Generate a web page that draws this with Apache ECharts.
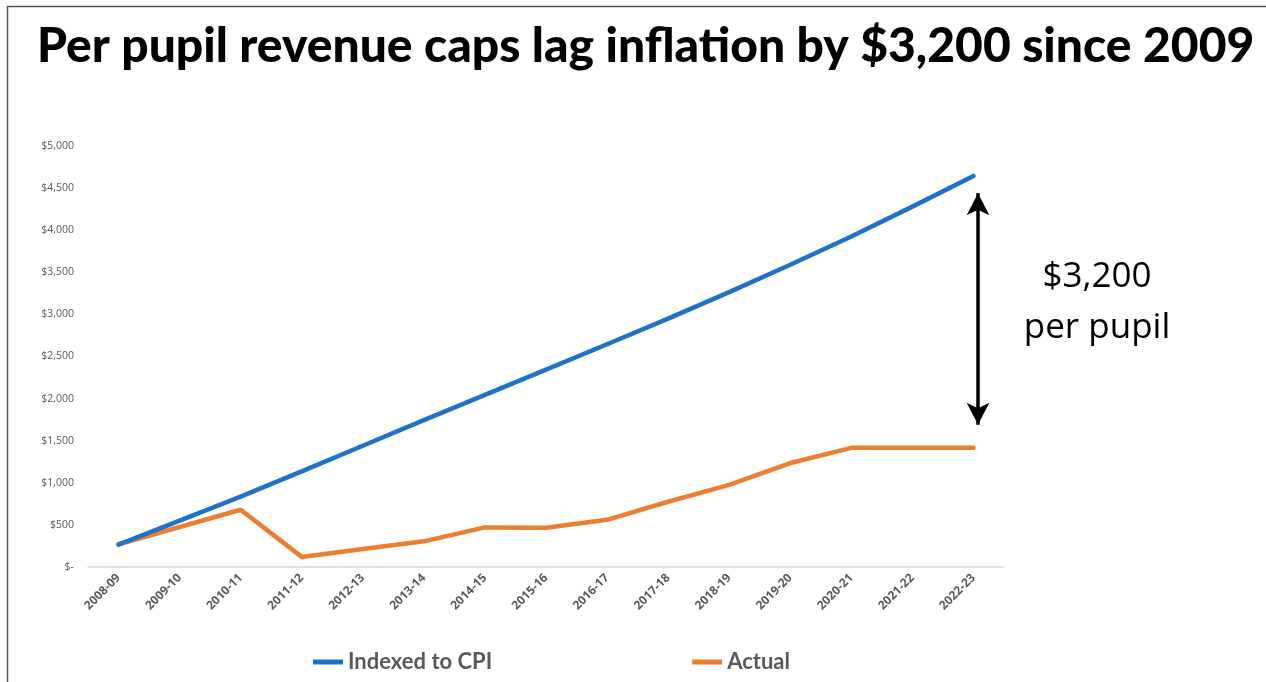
<!DOCTYPE html>
<html>
<head>
<meta charset="utf-8">
<script src="https://cdn.jsdelivr.net/npm/echarts@6/dist/echarts.min.js"></script>
<style>
  html, body { margin: 0; padding: 0; background: #fff; }
  #chart { width: 1266px; height: 682px; }
</style>
</head>
<body>
<div id="chart"></div>
<script>
const titleText = 'Per pupil revenue caps lag inflation by $3,200 since 2009';
const categories = ['2008-09','2009-10','2010-11','2011-12','2012-13','2013-14','2014-15','2015-16','2016-17','2017-18','2018-19','2019-20','2020-21','2021-22','2022-23'];
const indexedToCPI = [265, 550, 835, 1135, 1440, 1745, 2045, 2345, 2645, 2950, 3265, 3590, 3925, 4280, 4645];
const actual = [270, 475, 680, 120, 215, 305, 470, 465, 560, 775, 975, 1235, 1415, 1415, 1415];
const gapTop = 4440;
const gapBottom = 1690;
const gapLabel = '$3,200\nper pupil';
const yTicks = { min: 0, max: 5000, interval: 500 };

const chart = echarts.init(document.getElementById('chart'));
chart.setOption({
  animation: false,
  backgroundColor: '#ffffff',
  title: {
    text: titleText,
    left: 32,
    top: 18,
    textStyle: { fontFamily: 'Lato', fontWeight: 900, fontSize: 48, color: '#000' }
  },
  legend: {
    bottom: 4,
    left: 308,
    itemGap: 200,
    itemWidth: 30,
    itemHeight: 5,
    icon: 'rect',
    textStyle: { fontFamily: 'Lato', fontWeight: 'bold', fontSize: 22, color: '#595959' },
    data: ['Indexed to CPI', 'Actual']
  },
  grid: { left: 88, right: 262, top: 146, bottom: 115, containLabel: false },
  xAxis: {
    type: 'category',
    data: categories,
    boundaryGap: true,
    axisLine: { lineStyle: { color: '#d9d9d9', width: 1.5 } },
    axisTick: { show: false },
    axisLabel: { rotate: 45, margin: 9, fontFamily: 'Open Sans', fontWeight: 'bold', fontSize: 12, color: '#595959' }
  },
  yAxis: {
    type: 'value',
    min: yTicks.min, max: yTicks.max, interval: yTicks.interval,
    axisLine: { show: false },
    axisTick: { show: false },
    splitLine: { show: false },
    axisLabel: {
      margin: 14,
      fontFamily: 'Open Sans', fontSize: 10.5, color: '#595959',
      formatter: v => v === 0 ? '$-' : '$' + v.toLocaleString('en-US')
    }
  },
  series: [
    {
      name: 'Indexed to CPI',
      type: 'line',
      data: indexedToCPI,
      showSymbol: false,
      symbol: 'none',
      lineStyle: { color: '#1f72c8', width: 4.5, cap: 'round' },
      itemStyle: { color: '#1f72c8' },
      z: 3,
      markLine: {
        silent: true,
        symbol: ['arrow', 'arrow'],
        symbolSize: [17, 22],
        label: { show: false },
        lineStyle: { color: '#000', width: 3.5, type: 'solid' },
        data: [[
          { coord: [categories.length - 1, gapTop], x: 978 },
          { coord: [categories.length - 1, gapBottom], x: 978 }
        ]]
      }
    },
    {
      name: 'Actual',
      type: 'line',
      data: actual,
      showSymbol: false,
      symbol: 'none',
      lineStyle: { color: '#ed7d31', width: 4.5, cap: 'round' },
      itemStyle: { color: '#ed7d31' },
      z: 2
    }
  ],
  graphic: [
    {
      type: 'rect',
      shape: { x: 7.5, y: 6.5, width: 1300, height: 700 },
      style: { fill: 'none', stroke: '#555', lineWidth: 1.5 },
      silent: true
    },
    {
      type: 'text',
      x: 1097,
      y: 252,
      style: {
        text: gapLabel,
        fontFamily: 'Open Sans',
        fontSize: 35,
        lineHeight: 51,
        fill: '#000',
        align: 'center',
        verticalAlign: 'top'
      }
    }
  ]
});
</script>
</body>
</html>
